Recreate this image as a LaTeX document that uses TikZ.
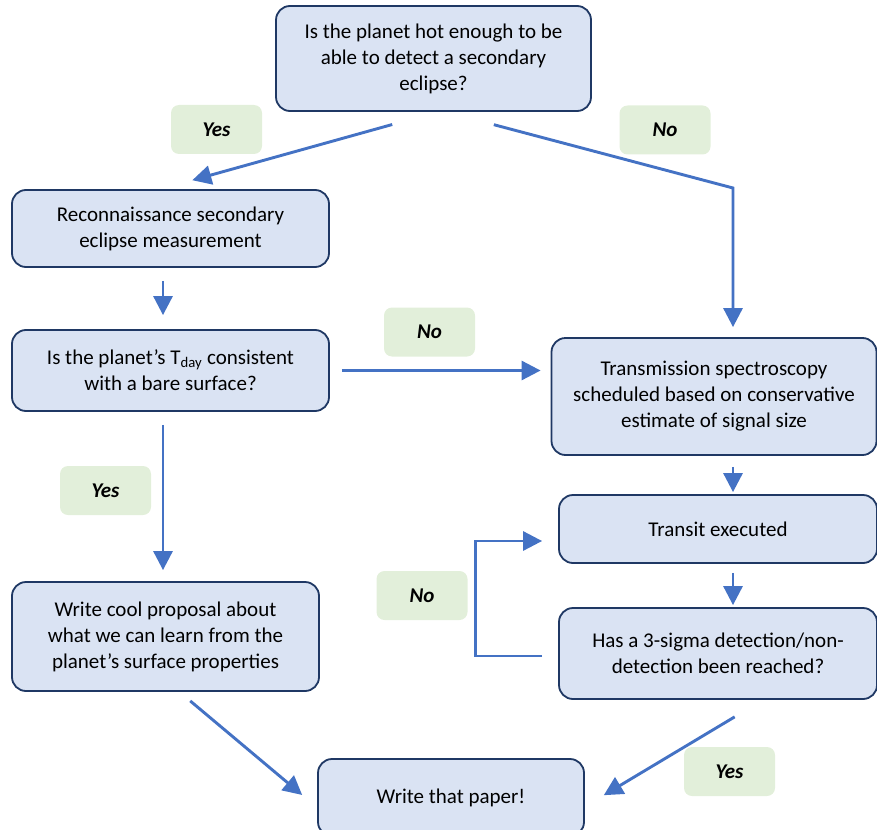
\documentclass[tikz,border=0pt]{standalone}
\usepackage{fontspec}
\setmainfont{Carlito}
\usetikzlibrary{arrows.meta}
\definecolor{boxfill}{HTML}{DAE3F3}
\definecolor{boxline}{HTML}{1F3864}
\definecolor{arrowblue}{HTML}{4472C4}
\definecolor{labelfill}{HTML}{E2EFDA}

\begin{document}
\begin{tikzpicture}[x = 1pt, y = -1pt,
                    box/.style = {draw = boxline, fill = boxfill, line width = 1.8pt, rounded corners = 14pt,
                                  align = center, inner sep = 0pt, font = \fontsize{21}{26}\selectfont},
                    answer/.style = {fill = labelfill, rounded corners = 8pt, minimum width = 91pt, minimum height = 49pt,
                                     inner sep = 0pt, font = \fontsize{21}{24}\selectfont\bfseries\itshape},
                    flow/.style = {draw = arrowblue, line width = 2.9pt, -{Triangle[length = 19pt, width = 19pt]}}]
      \useasboundingbox (0, 0) rectangle (877, 829);
      \node [box, minimum width = 315pt, minimum height = 105pt] (q1) at (433.5, 58.5)
            {Is the planet hot enough to be\\ able to detect a secondary\\ eclipse?};
      \node [box, minimum width = 317pt, minimum height = 77pt] (recon) at (170.5, 228.5)
            {Reconnaissance secondary\\ eclipse measurement};
      \node [box, minimum width = 317pt, minimum height = 81pt] (q2) at (170.5, 370.5)
            {Is the planet’s T\textsubscript{day} consistent\\ with a bare surface?};
      \node [box, minimum width = 307pt, minimum height = 109pt] (cool) at (165.5, 636.5)
            {Write cool proposal about\\ what we can learn from the\\ planet’s surface properties};
      \node [box, minimum width = 325pt, minimum height = 117pt] (trans) at (714, 396.5)
            {Transmission spectroscopy\\ scheduled based on conservative\\ estimate of signal size};
      \node [box, minimum width = 318pt, minimum height = 68pt] (transit) at (718, 529) {Transit executed};
      \node [box, minimum width = 318pt, minimum height = 91pt] (q3) at (718, 653.5)
            {Has a 3-sigma detection/non-\\ detection been reached?};
      \node [box, minimum width = 266pt, minimum height = 77pt] (paper) at (451, 797.5) {Write that paper!};

      \node [answer] (yes1) at (216.5, 129.5) {Yes};
      \node [answer] (no1) at (665, 130) {No};
      \node [answer] (no2) at (429.5, 332) {No};
      \node [answer] (yes2) at (105.5, 490.5) {Yes};
      \node [answer] (no3) at (422, 595.5) {No};
      \node [answer] (yes3) at (729.5, 771.5) {Yes};

      \coordinate (k1) at (733, 188);
      \draw [flow, shorten <= 47pt, shorten >= 33pt] ([xshift = 4]q1.south) -- ([xshift = -10]recon.north);
      \draw [flow, shorten <= 50pt, shorten >= 10pt] ([xshift = 12]q1.south) -- (k1) -- (k1 |- trans.north);
      \draw [flow, shorten <= 13pt, shorten >= 14pt] ([xshift = -7.5]recon.south) -- ([xshift = -7.5]q2.north);
      \draw [flow, shorten <= 12pt, shorten >= 10pt] (q2.east) -- (q2.east -| trans.west);
      \draw [flow, shorten <= 13pt, shorten >= 11pt] ([xshift = -7.5]q2.south) -- ([xshift = -7.5]q2.south |- cool.north);
      \draw [flow, shorten <= 11pt, shorten >= 2pt] ([xshift = 19]trans.south) -- ([xshift = 19]trans.south |- transit.north);
      \draw [flow, shorten <= 9pt, shorten >= 2pt] ([xshift = 15]transit.south) -- ([xshift = 15]q3.north);
      \draw [flow, shorten <= 16pt, shorten >= 16pt] ([yshift = -2.5]q3.west) -- ++(-83, 0) |- ([yshift = -12]transit.west);
      \draw [flow, shorten <= 14pt, shorten >= 19.5pt] ([xshift = 14]cool.south) -- ([yshift = -10]paper.west);
      \draw [flow, shorten <= 33pt, shorten >= 22pt] ([xshift = 45]q3.south) -- ([yshift = -9]paper.east);
    \end{tikzpicture}
\end{document}
